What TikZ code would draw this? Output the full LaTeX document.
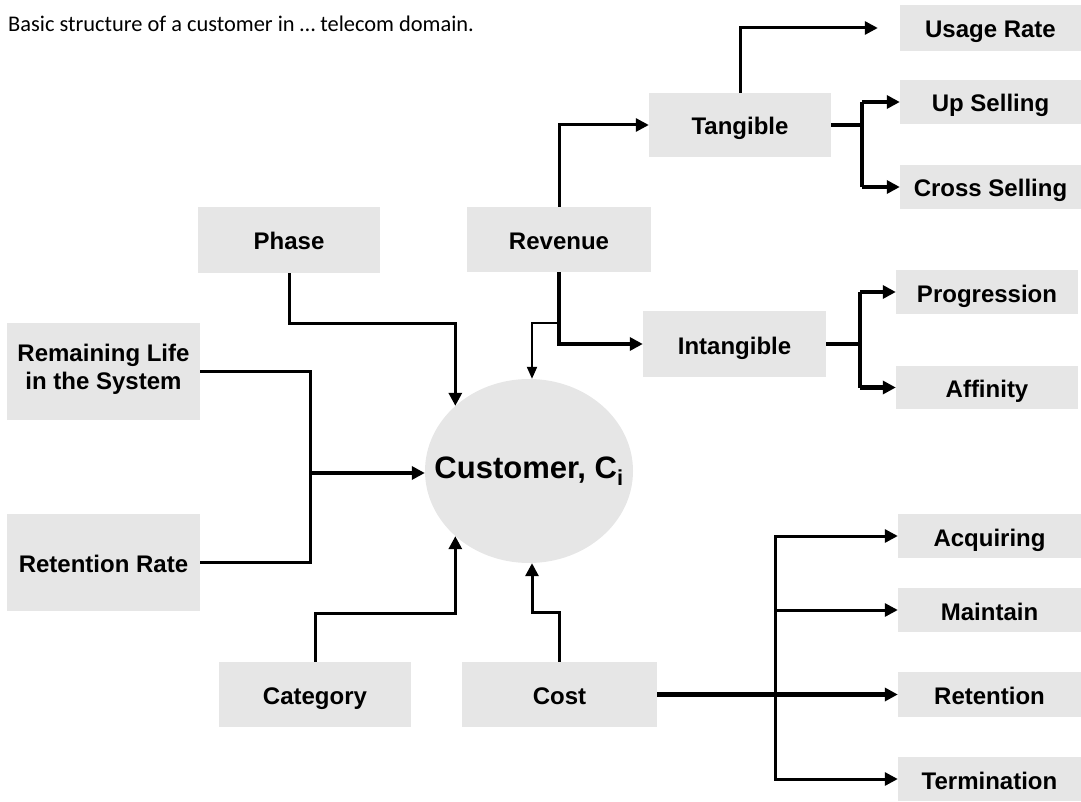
\documentclass[tikz,border=0pt]{standalone}
\usepackage{fontspec}
\setmainfont{Liberation Sans}
\newfontfamily\titlefont{Carlito}
\usetikzlibrary{arrows.meta,shapes.geometric,calc}
\definecolor{boxgray}{HTML}{E6E6E6}
\begin{document}
\begin{tikzpicture}[x=1pt,y=-1pt,
  box/.style={rectangle, fill=boxgray, inner sep=0pt, align=center,
    text height=20pt, text depth=0pt,
    font=\fontsize{24}{28}\selectfont\bfseries},
  thinln/.style={line width=3pt},
  thickln/.style={line width=4.5pt},
  finln/.style={line width=2pt},
  tip/.style={-{Triangle[length=13pt,width=13pt]}},
  smalltip/.style={-{Triangle[length=12pt,width=10pt]}}]
\useasboundingbox (0,0) rectangle (1081,802);
% title
\node[anchor=base west, inner sep=0pt, font=\titlefont\fontsize{22.4}{26}\selectfont] (title) at (8,32) {Basic structure of a customer in \dots\ telecom domain.};
% boxes
\node[box, minimum width=181, minimum height=46] (usage) at (990.5,28) {Usage Rate};
\node[box, minimum width=182, minimum height=64] (tangible) at (740,125) {Tangible};
\node[box, minimum width=181, minimum height=44] (upsell) at (990.5,102) {Up Selling};
\node[box, minimum width=181, minimum height=44] (cross) at (990.5,187) {Cross Selling};
\node[box, minimum width=182, minimum height=66] (phase) at (289,240) {Phase};
\node[box, minimum width=184, minimum height=65] (revenue) at (559,239.5) {Revenue};
\node[box, minimum width=183, minimum height=66] (intangible) at (734.5,344) {Intangible};
\node[box, minimum width=182, minimum height=44] (progression) at (987,292) {Progression};
\node[box, minimum width=182, minimum height=43] (affinity) at (987,387.5) {Affinity};
\node[box, text height=, text depth=, minimum width=193, minimum height=97] (remaining) at (103.5,371.5) {};
\node[font=\fontsize{24}{28}\selectfont\bfseries, align=center, inner sep=0pt] at ([yshift=2]remaining.center) {Remaining Life\\in the System};
\node[box, minimum width=193, minimum height=97] (rrate) at (103.5,562.5) {Retention Rate};
\node[box, minimum width=192, minimum height=65] (category) at (315,694.5) {Category};
\node[box, minimum width=195, minimum height=65] (cost) at (559.5,694.5) {Cost};
\node[box, minimum width=183, minimum height=44] (acquiring) at (989.5,536) {Acquiring};
\node[box, minimum width=183, minimum height=44] (maintain) at (989.5,610) {Maintain};
\node[box, minimum width=183, minimum height=45] (retention) at (989.5,694.5) {Retention};
\node[box, minimum width=183, minimum height=44] (termination) at (989.5,779) {Termination};
% customer
\node[ellipse, fill=boxgray, inner sep=0pt, minimum width=208, minimum height=184,
  label={[font=\fontsize{31}{36}\selectfont\bfseries]center:Customer, C\textsubscript{i}}] (customer) at (529,471) {};
% connectors: tangible
\draw[thinln, tip] (tangible.north) |- ([xshift=-22]usage.west);
\draw[thickln] (tangible.east) -- ++(31,0) coordinate (tb);
\draw[thickln] (tb |- upsell.west) -- (tb |- cross.west);
\draw[thickln, tip] (tb |- upsell.west) -- (upsell.west);
\draw[thickln, tip] (tb |- cross.west) -- (cross.west);
% revenue
\draw[thinln, tip] (revenue.north) |- (tangible.west);
\draw[thickln, tip] (revenue.south) |- (intangible.west);
\coordinate (rb) at ($(revenue.south)+(0,51)$);
\draw[finln, smalltip] (rb) -| ($(customer.north)+(3,0)$);
% intangible
\draw[thickln] (intangible.east) -- ++(34,0) coordinate (ib);
\draw[thickln] (ib |- progression.west) -- (ib |- affinity.west);
\draw[thickln, tip] (ib |- progression.west) -- (progression.west);
\draw[thickln, tip] (ib |- affinity.west) -- (affinity.west);
% phase
\draw[thinln, tip] (phase.south) -- ++(0,50) -| (customer.north west);
% left inputs
\coordinate (jl) at (310,473);
\draw[thinln] (remaining.east) -| (jl) |- (rrate.east);
\draw[line width=3.5pt, tip] (jl) -- (jl -| customer.west);
% category
\draw[thinln, tip] (category.north) -- ++(0,-48) -| (customer.south west);
% cost
\draw[thinln, tip] (cost.north) -- ++(0,-49) -| ($(customer.south)+(3,0)$);
\draw[thickln, tip] (cost.east) -- (retention.west);
\coordinate (cb) at (775,694.5);
\draw[thinln, tip] (cb) |- (acquiring.west);
\draw[thinln, tip] (cb) |- (termination.west);
\draw[thinln, tip] (cb |- maintain.west) -- (maintain.west);
\end{tikzpicture}
\end{document}
